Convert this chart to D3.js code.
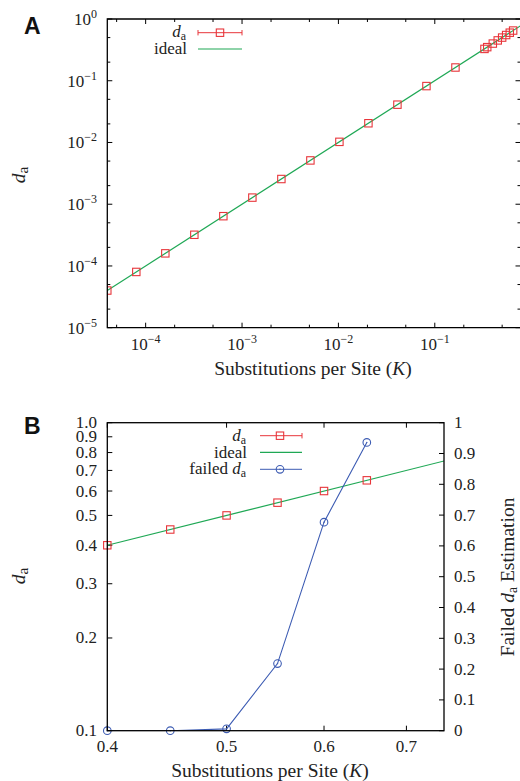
<!DOCTYPE html>
<html>
<head>
<meta charset="utf-8">
<script src="https://d3js.org/d3.v7.min.js"></script>
<style>
  body { margin: 0; background: #fff; }
  svg text { font-family: "Liberation Serif", serif; fill: #222; }
  .panel-tag { font-family: "Liberation Sans", Arial, sans-serif; font-weight: bold; font-size: 23px; fill: #111; }
  .tick-label { font-size: 17px; }
  .axis-title { font-size: 19.5px; }
</style>
</head>
<body>
<script>
// ---- data ----
// panel A: substitutions per site vs estimated d_a (log-log)
var kA = [4e-5, 8e-5, 1.6e-4, 3.2e-4, 6.4e-4, 1.28e-3, 2.56e-3, 5.12e-3, 1.024e-2,
          2.048e-2, 4.096e-2, 8.192e-2, 0.16384, 0.32768, 0.35, 0.4, 0.45, 0.5, 0.55, 0.6, 0.65];
var daA = [4e-5, 8e-5, 1.6e-4, 3.2e-4, 6.4e-4, 1.28e-3, 2.56e-3, 5.12e-3, 1.024e-2,
           2.048e-2, 4.096e-2, 8.192e-2, 0.16384, 0.32768, 0.35, 0.4, 0.45, 0.5, 0.55, 0.6, 0.65];
var idealA = [4e-5, 0.78];
// panel B
var kB = [0.4, 0.45, 0.5, 0.55, 0.6, 0.65];
var daB = [0.4, 0.45, 0.5, 0.55, 0.6, 0.65];
var failedB = [0, 0, 0.006, 0.218, 0.677, 0.936];
var idealB = [0.4, 0.76];
// tick labels
var decadeTicksX = [-4, -3, -2, -1];
var decadeTicksY = [0, -1, -2, -3, -4, -5];
var ticksBx = [0.4, 0.5, 0.6, 0.7];
var ticksBleft = [1.0, 0.9, 0.8, 0.7, 0.6, 0.5, 0.4, 0.3, 0.2, 0.1];
var ticksBright = [0, 0.1, 0.2, 0.3, 0.4, 0.5, 0.6, 0.7, 0.8, 0.9, 1];

var RED = "#e8363b", GREEN = "#1fa855", BLUE = "#3d5cb3";

var svg = d3.select("body").append("svg")
  .attr("width", 520).attr("height", 781);

// small helpers
function square(g, x, y) {
  g.append("rect").attr("x", x - 3.7).attr("y", y - 3.7)
    .attr("width", 7.4).attr("height", 7.4)
    .attr("fill", "none").attr("stroke", RED).attr("stroke-width", 1.1);
}
function ring(g, x, y) {
  g.append("circle").attr("cx", x).attr("cy", y).attr("r", 3.8)
    .attr("fill", "none").attr("stroke", BLUE).attr("stroke-width", 1.1);
  g.append("circle").attr("cx", x).attr("cy", y).attr("r", 0.7).attr("fill", BLUE);
}
function powLabel(g, x, y, exp, anchor) {
  var t = g.append("text").attr("class", "tick-label")
    .attr("x", x).attr("y", y).attr("text-anchor", anchor);
  t.append("tspan").text("10");
  t.append("tspan").attr("dy", -7).attr("font-size", 12).text(exp === 0 ? "0" : "\u2212" + (-exp));
}
function daText(t, size) {
  t.append("tspan").attr("font-style", "italic").text("d");
  t.append("tspan").attr("dy", 3).attr("font-size", size * 0.7).text("a");
}

// ================= panel A =================
var xA = d3.scaleLog().domain([4e-5, 0.775]).range([107.3, 520.5]);
var yA = d3.scaleLog().domain([1e-5, 1]).range([327.7, 19]);
var gA = svg.append("g");

gA.append("defs").append("clipPath").attr("id", "clipA")
  .append("rect").attr("x", 107.3).attr("y", 19).attr("width", 413.2).attr("height", 308.7);

// ticks: majors at decades, minors at 2 and 5
var majX = [], minX = [];
d3.range(-5, 1).forEach(function(e) {
  [1, 2, 5].forEach(function(m) {
    var v = m * Math.pow(10, e);
    if (v >= 4e-5 && v <= 0.775) (m === 1 ? majX : minX).push(v);
  });
});
var majY = [], minY = [];
d3.range(-5, 1).forEach(function(e) {
  [1, 2, 5].forEach(function(m) {
    var v = m * Math.pow(10, e);
    if (v >= 1e-5 && v <= 1) (m === 1 ? majY : minY).push(v);
  });
});
var tickG = gA.append("g").attr("stroke", "#000").attr("stroke-width", 1);
majX.concat(minX).forEach(function(v) {
  var len = majX.indexOf(v) >= 0 ? 5 : 3;
  var px = xA(v);
  tickG.append("line").attr("x1", px).attr("x2", px).attr("y1", 327.7).attr("y2", 327.7 - len);
  tickG.append("line").attr("x1", px).attr("x2", px).attr("y1", 19).attr("y2", 19 + len);
});
majY.concat(minY).forEach(function(v) {
  var len = majY.indexOf(v) >= 0 ? 5 : 3;
  var py = yA(v);
  tickG.append("line").attr("x1", 107.3).attr("x2", 107.3 + len).attr("y1", py).attr("y2", py);
  tickG.append("line").attr("x1", 520.5).attr("x2", 520.5 - len).attr("y1", py).attr("y2", py);
});

decadeTicksX.forEach(function(e) { powLabel(gA, xA(Math.pow(10, e)), 350, e, "middle"); });
decadeTicksY.forEach(function(e) { powLabel(gA, 97, yA(Math.pow(10, e)) + 6, e, "end"); });

// data
var plotA = gA.append("g").attr("clip-path", "url(#clipA)");
plotA.append("path")
  .attr("d", d3.line().x(function(d) { return xA(d); }).y(function(d) { return yA(d); })(idealA))
  .attr("fill", "none").attr("stroke", GREEN).attr("stroke-width", 1.2);
kA.forEach(function(k, i) { square(plotA, xA(k), yA(daA[i])); });

// frame
gA.append("path").attr("d", "M520.5,19H107.3V327.7H520.5")
  .attr("fill", "none").attr("stroke", "#000").attr("stroke-width", 1.3);

// legend
var legA = gA.append("g");
daText(legA.append("text").attr("class", "tick-label").attr("x", 186).attr("y", 37).attr("text-anchor", "end"), 17);
legA.append("line").attr("x1", 198).attr("x2", 242).attr("y1", 32.7).attr("y2", 32.7).attr("stroke", RED);
legA.append("line").attr("x1", 198).attr("x2", 198).attr("y1", 30).attr("y2", 35.4).attr("stroke", RED);
legA.append("line").attr("x1", 242).attr("x2", 242).attr("y1", 30).attr("y2", 35.4).attr("stroke", RED);
square(legA, 220, 32.7);
legA.append("text").attr("class", "tick-label").attr("x", 187).attr("y", 54)
  .attr("text-anchor", "end").text("ideal");
legA.append("line").attr("x1", 198).attr("x2", 242).attr("y1", 49).attr("y2", 49)
  .attr("stroke", GREEN).attr("stroke-width", 1.2);

// titles
svg.append("text").attr("class", "panel-tag").attr("x", 24).attr("y", 34).text("A");
var ytA = svg.append("text").attr("class", "axis-title").attr("font-size", 22)
  .attr("transform", "translate(25,175) rotate(-90)").attr("text-anchor", "middle");
daText(ytA, 22);
var xtA = svg.append("text").attr("class", "axis-title").attr("x", 313).attr("y", 375).attr("text-anchor", "middle");
xtA.append("tspan").text("Substitutions per Site (");
xtA.append("tspan").attr("font-style", "italic").text("K");
xtA.append("tspan").text(")");

// ================= panel B =================
var xB = d3.scaleLog().domain([0.4, 0.751]).range([107.3, 444]);
var yB = d3.scaleLog().domain([0.1, 1]).range([730.7, 422.7]);
var yB2 = d3.scaleLinear().domain([0, 1]).range([730.7, 422.7]);
var gB = svg.append("g");

gB.append("defs").append("clipPath").attr("id", "clipB")
  .append("rect").attr("x", 107.3).attr("y", 422.7).attr("width", 336.7).attr("height", 308);

var tickB = gB.append("g").attr("stroke", "#000").attr("stroke-width", 1);
ticksBx.forEach(function(v) {
  var px = xB(v);
  tickB.append("line").attr("x1", px).attr("x2", px).attr("y1", 730.7).attr("y2", 725.7);
  tickB.append("line").attr("x1", px).attr("x2", px).attr("y1", 422.7).attr("y2", 427.7);
  gB.append("text").attr("class", "tick-label").attr("x", px).attr("y", 752)
    .attr("text-anchor", "middle").text(d3.format(".1f")(v));
});
ticksBleft.forEach(function(v) {
  var py = yB(v);
  tickB.append("line").attr("x1", 107.3).attr("x2", 112.3).attr("y1", py).attr("y2", py);
  gB.append("text").attr("class", "tick-label").attr("x", 97).attr("y", py + 5.5)
    .attr("text-anchor", "end").text(d3.format(".1f")(v));
});
ticksBright.forEach(function(v) {
  var py = yB2(v);
  tickB.append("line").attr("x1", 444).attr("x2", 439).attr("y1", py).attr("y2", py);
  gB.append("text").attr("class", "tick-label").attr("x", 454).attr("y", py + 5.5)
    .text(v === 0 || v === 1 ? String(v) : d3.format(".1f")(v));
});

var plotB = gB.append("g").attr("clip-path", "url(#clipB)");
plotB.append("path")
  .attr("d", d3.line().x(function(d) { return xB(d); }).y(function(d) { return yB(d); })(idealB))
  .attr("fill", "none").attr("stroke", GREEN).attr("stroke-width", 1.2);
plotB.append("path")
  .attr("d", d3.line().x(function(d, i) { return xB(kB[i]); }).y(function(d) { return yB2(d); })(failedB))
  .attr("fill", "none").attr("stroke", BLUE).attr("stroke-width", 1.1);
kB.forEach(function(k, i) { square(gB, xB(k), yB(daB[i])); });
kB.forEach(function(k, i) { ring(gB, xB(k), yB2(failedB[i])); });

gB.append("rect").attr("x", 107.3).attr("y", 422.7).attr("width", 336.7).attr("height", 308)
  .attr("fill", "none").attr("stroke", "#000").attr("stroke-width", 1.3);

// legend
var legB = gB.append("g");
daText(legB.append("text").attr("class", "tick-label").attr("x", 246).attr("y", 441).attr("text-anchor", "end"), 17);
legB.append("line").attr("x1", 260).attr("x2", 302).attr("y1", 435.7).attr("y2", 435.7).attr("stroke", RED);
legB.append("line").attr("x1", 302).attr("x2", 302).attr("y1", 433).attr("y2", 438.4).attr("stroke", RED);
square(legB, 280, 435.7);
legB.append("text").attr("class", "tick-label").attr("x", 247).attr("y", 458)
  .attr("text-anchor", "end").text("ideal");
legB.append("line").attr("x1", 260).attr("x2", 302).attr("y1", 452.3).attr("y2", 452.3)
  .attr("stroke", GREEN).attr("stroke-width", 1.2);
var fl = legB.append("text").attr("class", "tick-label").attr("x", 246).attr("y", 474)
  .attr("text-anchor", "end");
fl.append("tspan").text("failed ");
daText(fl, 17);
legB.append("line").attr("x1", 260).attr("x2", 302).attr("y1", 469.3).attr("y2", 469.3).attr("stroke", BLUE);
ring(legB, 280, 469.3);

svg.append("text").attr("class", "panel-tag").attr("x", 24).attr("y", 434).text("B");
var ytB = svg.append("text").attr("class", "axis-title").attr("font-size", 22)
  .attr("transform", "translate(25,576) rotate(-90)").attr("text-anchor", "middle");
daText(ytB, 22);
var ytB2 = svg.append("text").attr("class", "axis-title")
  .attr("transform", "translate(514,577) rotate(-90)").attr("text-anchor", "middle");
ytB2.append("tspan").text("Failed ");
daText(ytB2, 19.5);
ytB2.append("tspan").attr("dy", -3).text(" Estimation");
var xtB = svg.append("text").attr("class", "axis-title").attr("x", 270).attr("y", 777).attr("text-anchor", "middle");
xtB.append("tspan").text("Substitutions per Site (");
xtB.append("tspan").attr("font-style", "italic").text("K");
xtB.append("tspan").text(")");
</script>
</body>
</html>
